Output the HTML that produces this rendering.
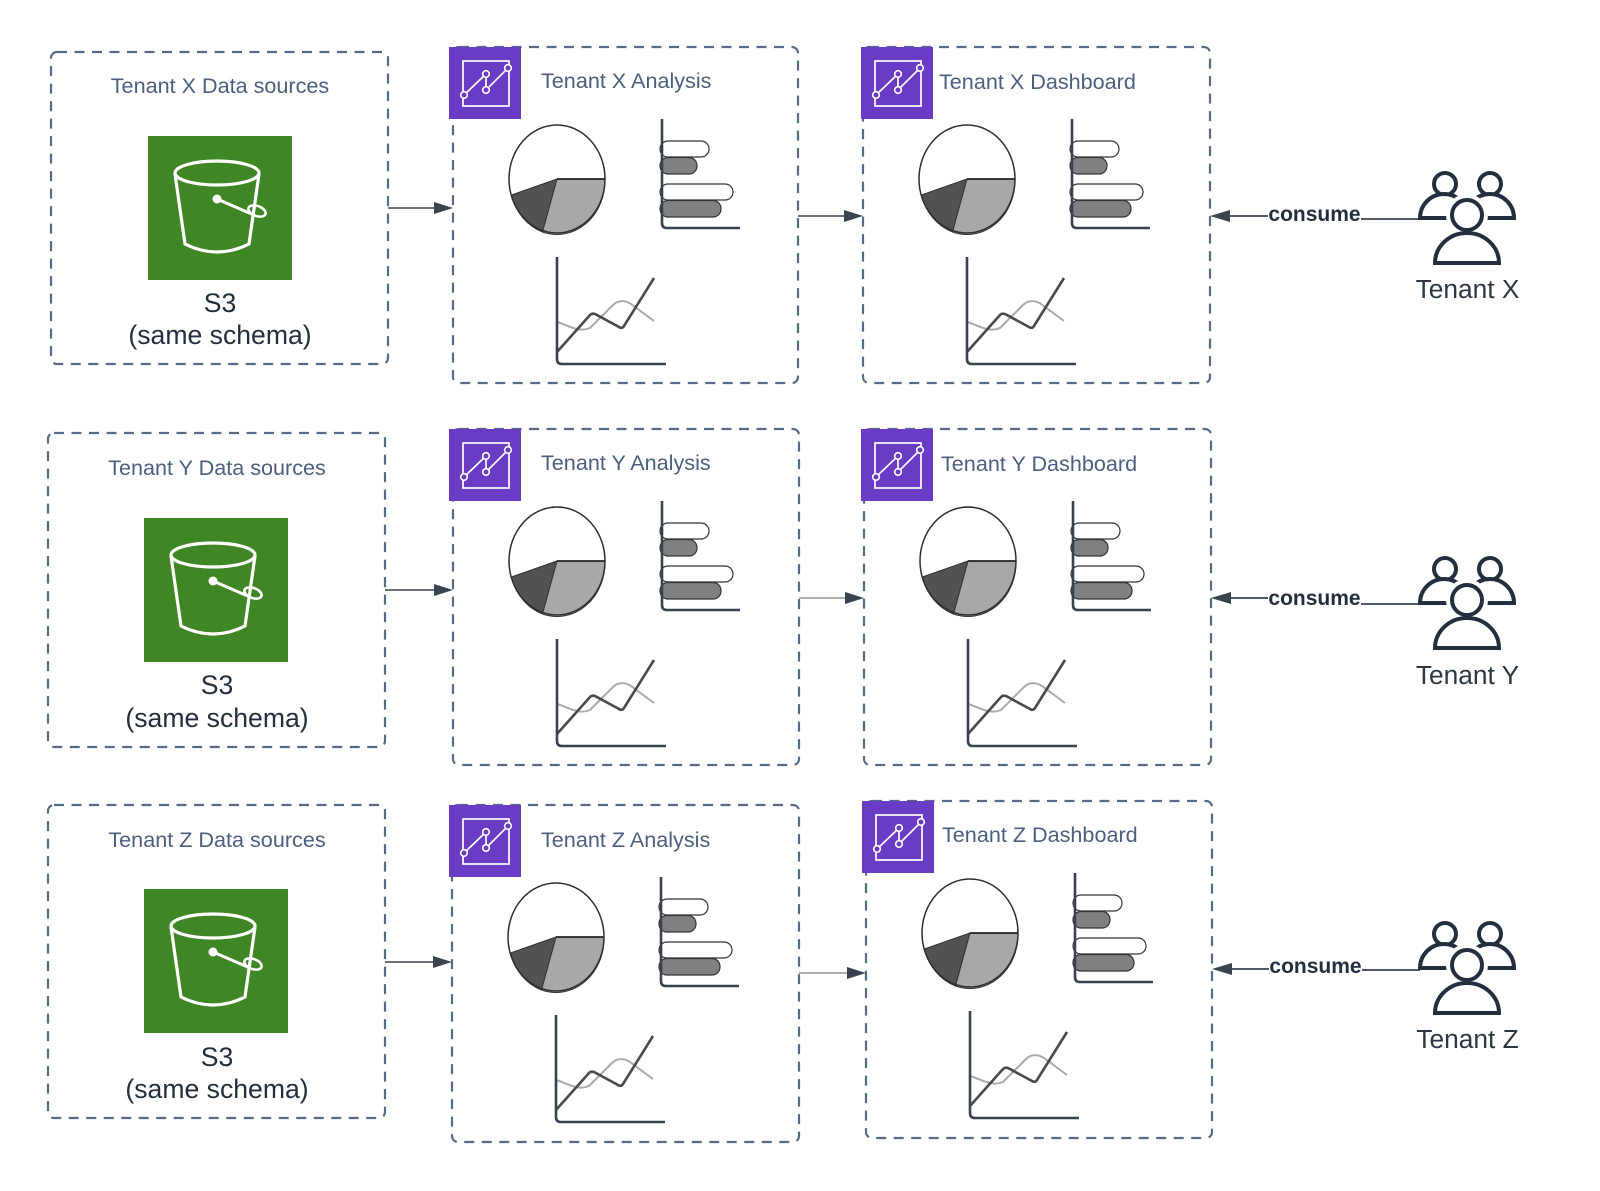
<!DOCTYPE html>
<html>
<head>
<meta charset="utf-8">
<style>
  html,body{margin:0;padding:0;background:#ffffff;}
  svg{display:block;}
  text{font-family:"Liberation Sans", Arial, sans-serif;}
</style>
</head>
<body>
<svg width="1600" height="1191" viewBox="0 0 1600 1191" xmlns="http://www.w3.org/2000/svg">
  <defs>
    <g id="charts">
      <path d="M104 132 L152 132 A48 54 0 1 0 58.5 148 Z" fill="#ffffff"/>
      <path d="M104 132 L58.5 148 A48 54 0 0 0 89.5 185 Z" fill="#525252" stroke="#333" stroke-width="1"/>
      <path d="M104 132 L89.5 185 A48 54 0 0 0 152 132 Z" fill="#a8a8a8" stroke="#333" stroke-width="1"/>
      <line x1="104" y1="132" x2="152" y2="132" stroke="#222" stroke-width="1.8"/>
      <ellipse cx="104" cy="132" rx="48" ry="54" fill="none" stroke="#2f2f2f" stroke-width="1.5"/>
      <rect x="207" y="94" width="49" height="16" rx="8" fill="#ffffff" stroke="#333" stroke-width="1.2"/>
      <rect x="207" y="110.5" width="37" height="16.5" rx="8" fill="#808080" stroke="#333" stroke-width="1.2"/>
      <rect x="207" y="137" width="73" height="16" rx="8" fill="#ffffff" stroke="#333" stroke-width="1.2"/>
      <rect x="207" y="153.5" width="61" height="16.5" rx="8" fill="#808080" stroke="#333" stroke-width="1.2"/>
      <path d="M209 72 V176 Q209 181 214 181 H287" fill="none" stroke="#3a4150" stroke-width="2.6"/>
      <path d="M104 275 C115 278 125 286 137 281 L160 258 C165 253 172 253 178 257 L201 274" fill="none" stroke="#aaaaaa" stroke-width="2"/>
      <path d="M104 305 L137 268 Q139 266 142 267 L166 280 Q169 282 171 279 L201 231" fill="none" stroke="#4a4a4a" stroke-width="2.6"/>
      <path d="M104 210 V312 Q104 317 109 317 H213" fill="none" stroke="#3a4150" stroke-width="2.6"/>
    </g>
    <g id="qs">
      <rect width="72" height="72" fill="#6a3bc4"/>
      <rect x="14" y="14" width="46" height="45" fill="none" stroke="#ffffff" stroke-width="1.7"/>
      <polyline points="15,48 37,27 37,43 59,21" fill="none" stroke="#ffffff" stroke-width="1.7"/>
      <circle cx="15" cy="48" r="3.3" fill="#6a3bc4" stroke="#ffffff" stroke-width="1.6"/>
      <circle cx="37" cy="27" r="3.3" fill="#6a3bc4" stroke="#ffffff" stroke-width="1.6"/>
      <circle cx="37" cy="43" r="3.3" fill="#6a3bc4" stroke="#ffffff" stroke-width="1.6"/>
      <circle cx="59" cy="21" r="3.3" fill="#6a3bc4" stroke="#ffffff" stroke-width="1.6"/>
    </g>
    <g id="s3">
      <rect width="144" height="144" fill="#3f8624"/>
      <ellipse cx="69" cy="37" rx="42" ry="12" fill="none" stroke="#ffffff" stroke-width="3.2"/>
      <path d="M27 38 L37 108 Q69 124 101 108 L111 38" fill="none" stroke="#ffffff" stroke-width="3.2" stroke-linejoin="round"/>
      <circle cx="69" cy="63" r="4.5" fill="#ffffff"/>
      <line x1="69" y1="63" x2="106" y2="79" stroke="#ffffff" stroke-width="3"/>
      <ellipse cx="109" cy="75" rx="9" ry="5" transform="rotate(20 109 75)" fill="none" stroke="#ffffff" stroke-width="2.6"/>
    </g>
    <g id="users" fill="none" stroke="#232f3e" stroke-width="4">
      <circle cx="-22" cy="-31" r="11" fill="#fff"/>
      <path d="M-47 3 A24 24 0 0 1 1 3 Z" fill="#fff"/>
      <circle cx="23" cy="-31" r="11" fill="#fff"/>
      <path d="M-1 3 A24 24 0 0 1 47 3 Z" fill="#fff"/>
      <circle cx="0" cy="0" r="15" stroke="#ffffff" stroke-width="12" fill="#fff"/>
      <path d="M-32 48 A32 30 0 0 1 32 48 Z" stroke="#ffffff" stroke-width="12" fill="#fff"/>
      <circle cx="0" cy="0" r="15" fill="#fff"/>
      <path d="M-32 48 A32 30 0 0 1 32 48 Z" fill="#fff"/>
    </g>
  </defs>

  <rect width="1600" height="1191" fill="#ffffff"/>

  <g fill="none" stroke="#566b87" stroke-width="2.2" stroke-dasharray="10 7.5">
    <rect x="51" y="52" width="337" height="312" rx="6"/>
    <rect x="453" y="47" width="345" height="336" rx="6"/>
    <rect x="863" y="47" width="347" height="336" rx="6"/>

    <rect x="48" y="433" width="337" height="314" rx="6"/>
    <rect x="453" y="429" width="346" height="336" rx="6"/>
    <rect x="864" y="429" width="347" height="336" rx="6"/>

    <rect x="48" y="805" width="337" height="313" rx="6"/>
    <rect x="452" y="805" width="347" height="337" rx="6"/>
    <rect x="866" y="801" width="346" height="337" rx="6"/>
  </g>

  <use href="#charts" transform="translate(453,47)"/>
  <use href="#charts" transform="translate(863,47)"/>
  <use href="#charts" transform="translate(453,429)"/>
  <use href="#charts" transform="translate(864,429)"/>
  <use href="#charts" transform="translate(452,805)"/>
  <use href="#charts" transform="translate(866,801)"/>

  <use href="#qs" transform="translate(449,47)"/>
  <use href="#qs" transform="translate(861,47)"/>
  <use href="#qs" transform="translate(449,429)"/>
  <use href="#qs" transform="translate(861,429)"/>
  <use href="#qs" transform="translate(449,805)"/>
  <use href="#qs" transform="translate(862,801)"/>

  <use href="#s3" transform="translate(148,136)"/>
  <use href="#s3" transform="translate(144,518)"/>
  <use href="#s3" transform="translate(144,889)"/>

  <g font-size="21.6" fill="#4b5f80">
    <text x="220" y="93" text-anchor="middle">Tenant X Data sources</text>
    <text x="217" y="475" text-anchor="middle">Tenant Y Data sources</text>
    <text x="217" y="847" text-anchor="middle">Tenant Z Data sources</text>
    <text x="541" y="88">Tenant X Analysis</text>
    <text x="939" y="89">Tenant X Dashboard</text>
    <text x="541" y="470">Tenant Y Analysis</text>
    <text x="941" y="471">Tenant Y Dashboard</text>
    <text x="541" y="847">Tenant Z Analysis</text>
    <text x="942" y="842">Tenant Z Dashboard</text>
  </g>

  <g font-size="26.6" fill="#232f3e" text-anchor="middle">
    <text x="220" y="312">S3</text>
    <text x="220" y="344">(same schema)</text>
    <text x="217" y="694">S3</text>
    <text x="217" y="727">(same schema)</text>
    <text x="217" y="1066">S3</text>
    <text x="217" y="1098">(same schema)</text>
  </g>

  <g stroke="#3a4350" stroke-width="1.6">
    <line x1="388" y1="208" x2="436" y2="208"/>
    <line x1="798" y1="216" x2="846" y2="216"/>
    <line x1="385" y1="590" x2="436" y2="590"/>
    <line x1="385" y1="962" x2="435" y2="962"/>
  </g>
  <g stroke="#7a7f88" stroke-width="1.2">
    <line x1="799" y1="598" x2="847" y2="598"/>
    <line x1="799" y1="973" x2="849" y2="973"/>
  </g>
  <g fill="#3a4350">
    <polygon points="453,208 434,202 434,214"/>
    <polygon points="863,216 844,210 844,222"/>
    <polygon points="453,590 434,584 434,596"/>
    <polygon points="864,598 845,592 845,604"/>
    <polygon points="452,962 433,956 433,968"/>
    <polygon points="866,973 847,967 847,979"/>
    <polygon points="1210,216 1230,210 1230,222"/>
    <polygon points="1211,598 1231,592 1231,604"/>
    <polygon points="1212,969 1232,963 1232,975"/>
  </g>

  <g stroke="#3a4350" stroke-width="1.8">
    <line x1="1228" y1="216" x2="1268" y2="216"/>
    <line x1="1361" y1="219" x2="1420" y2="219"/>
    <line x1="1229" y1="598" x2="1268" y2="598"/>
    <line x1="1361" y1="604" x2="1420" y2="604"/>
    <line x1="1230" y1="969" x2="1269" y2="969"/>
    <line x1="1362" y1="970" x2="1420" y2="970"/>
  </g>
  <g font-size="21" font-weight="bold" fill="#232f3e" text-anchor="middle">
    <text x="1314.5" y="221">consume</text>
    <text x="1314.5" y="605">consume</text>
    <text x="1315.5" y="973">consume</text>
  </g>

  <use href="#users" transform="translate(1467,215)"/>
  <use href="#users" transform="translate(1467,600)"/>
  <use href="#users" transform="translate(1467,965)"/>

  <g font-size="26.3" fill="#2d3744" text-anchor="middle">
    <text x="1467.5" y="298">Tenant X</text>
    <text x="1467.5" y="684">Tenant Y</text>
    <text x="1467.5" y="1048">Tenant Z</text>
  </g>
</svg>
</body>
</html>
